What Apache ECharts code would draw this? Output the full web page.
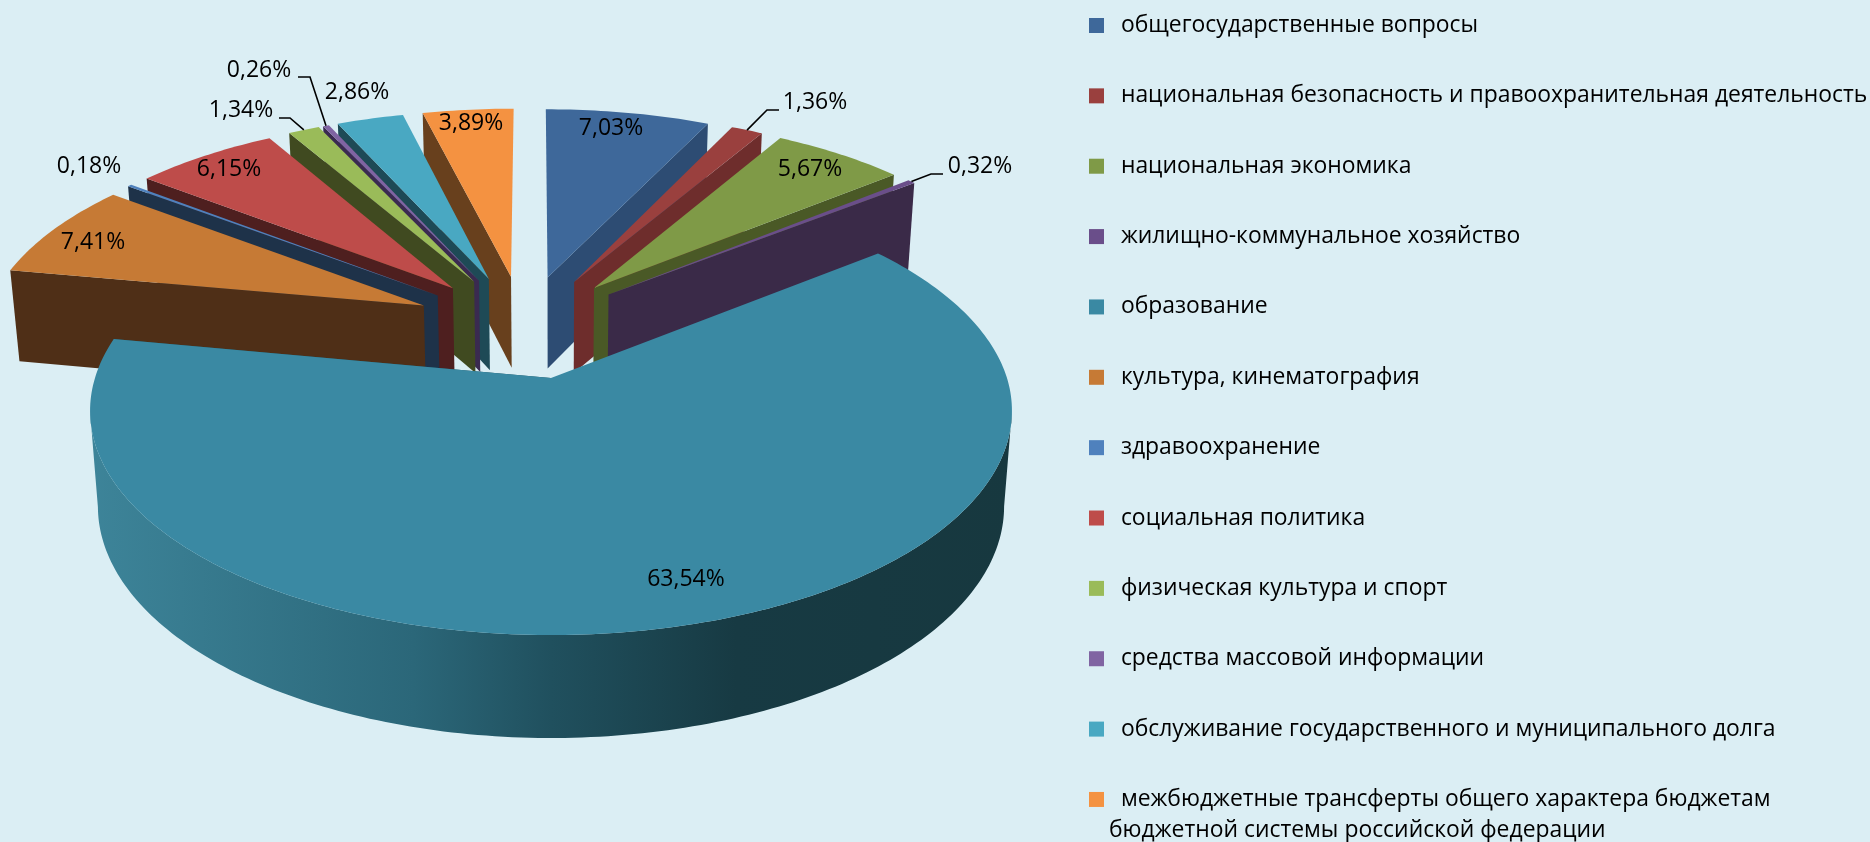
<!DOCTYPE html>
<html>
<head>
<meta charset="utf-8">
<style>html,body{margin:0;padding:0;background:#DBEEF4}#chart{width:1870px;height:842px}</style>
<script src="https://cdn.jsdelivr.net/npm/echarts@6/dist/echarts.min.js"></script>
</head>
<body>
<div id="chart"></div>
<script>
var categories = ['общегосударственные вопросы', 'национальная безопасность и правоохранительная деятельность', 'национальная экономика', 'жилищно-коммунальное хозяйство', 'образование', 'культура, кинематография', 'здравоохранение', 'социальная политика', 'физическая культура и спорт', 'средства массовой информации', 'обслуживание государственного и муниципального долга', 'межбюджетные трансферты общего характера бюджетам'];
var lastLine = 'бюджетной системы российской федерации';
var values = [7.03, 1.36, 5.67, 0.32, 63.54, 7.41, 0.18, 6.15, 1.34, 0.26, 2.86, 3.89];

var topColors = ['#3E689A', '#9A403E', '#7F9A47', '#6A4E8A', '#3A89A3', '#C67A35', '#4F81BD', '#BE4C4A', '#9ABB59', '#8064A2', '#49A8C2', '#F49241'];
var sideColors = ['#2D4C73', '#6E2D2C', '#4A5926', '#3A2A48', '#1F5362', '#4F2F17', '#1E3249', '#4E1F1F', '#404A20', '#3A2A50', '#1E4A56', '#68401D'];

// label centres, in page pixels
var labelPos = [[611, 128], [815, 102], [810, 169], [980, 166], [686, 579], [93, 242], [89, 166], [229, 169], [241, 110], [259, 70], [357, 92], [471, 123]];
// leader lines: label end, elbow; the tail goes to the slice's rim
var leaders = {1: [[779, 110], [767, 110]], 3: [[943, 174], [931, 174]], 8: [[279, 118], [290, 118]], 9: [[298, 77], [310, 77]]};

// perspective of the pie plane, fitted to the picture
var CX = 551, CY = 378, A = 456, B = 219.5, K = 0.146, EXPLODE = 0.252, SHEAR = 0.012;
var BOTTOM_X = 0.983, BOTTOM_Y = 1.0333, DEPTH = 94.4;

var total = values.reduce(function (a, b) { return a + b; }, 0);
var slices = [];
var cum = 0;
values.forEach(function (v) {
  var a0 = cum / total * Math.PI * 2;
  cum += v;
  var a1 = cum / total * Math.PI * 2;
  slices.push({a0: a0, a1: a1, mid: (a0 + a1) / 2});
});
var eduMid = slices[4].mid;

function project(u, v) {
  var w = 1 - K * v;
  var y = CY + B * v / w;
  return [CX + A * u / w - SHEAR * Math.max(0, CY - y), y];
}
function drop(p) {
  return [CX + (p[0] - CX) * BOTTOM_X, CY + DEPTH + (p[1] - CY) * BOTTOM_Y];
}
function apexOf(s) {
  return [EXPLODE * (Math.sin(s.mid) - Math.sin(eduMid)), EXPLODE * (Math.cos(eduMid) - Math.cos(s.mid))];
}
function rimPoint(s, a) {
  var c = apexOf(s);
  return project(c[0] + Math.sin(a), c[1] - Math.cos(a));
}
function arc(s) {
  var pts = [];
  var n = Math.max(4, Math.ceil((s.a1 - s.a0) * 60));
  for (var i = 0; i <= n; i++) {
    pts.push(rimPoint(s, s.a0 + (s.a1 - s.a0) * i / n));
  }
  return pts;
}
// front part of the rim: the swept face between the arc's rightmost and leftmost points
function rimShape(top) {
  var right = 0, left = 0;
  top.forEach(function (p, i) {
    if (p[0] > top[right][0]) right = i;
    if (p[0] < top[left][0]) left = i;
  });
  var front = top.slice(Math.min(left, right), Math.max(left, right) + 1);
  return front.concat(front.map(drop).reverse());
}

var eduSide = new echarts.graphic.LinearGradient(91, 0, 1012, 0, [
  {offset: 0, color: '#3D8499'},
  {offset: 0.35, color: '#2B6779'},
  {offset: 0.5, color: '#20505E'},
  {offset: 0.7, color: '#173A43'},
  {offset: 1, color: '#17383F'}
], true);

function drawSlice(i) {
  var s = slices[i];
  var c = apexOf(s);
  var apex = project(c[0], c[1]);
  var top = arc(s);
  // only the cut facing the viewer is drawn
  var edge = s.mid < Math.PI ? top[top.length - 1] : top[0];
  var kids = [{type: 'polygon', shape: {points: [apex, edge, drop(edge), drop(apex)]}, style: {fill: sideColors[i]}}];
  // the rim shows only on a slice that reaches the front of the pie
  if (s.a0 < Math.PI && s.a1 > Math.PI) {
    kids.push({type: 'polygon', shape: {points: rimShape(top)}, style: {fill: eduSide}});
  }
  kids.push({type: 'polygon', shape: {points: [apex].concat(top)}, style: {fill: topColors[i]}});
  return {type: 'group', children: kids};
}

function drawLabel(params) {
  var i = params.dataIndex;
  var kids = [{
    type: 'text',
    x: labelPos[i][0],
    y: labelPos[i][1],
    style: {text: values[i].toFixed(2).replace('.', ',') + '%', fill: '#000', font: '23px "Open Sans"', align: 'center', verticalAlign: 'middle'}
  }];
  if (leaders[i]) {
    var tail = rimPoint(slices[i], slices[i].mid);
    kids.push({type: 'polyline', shape: {points: leaders[i].concat([tail])}, style: {stroke: '#000', lineWidth: 1.6, fill: null}});
  }
  return {type: 'group', children: kids};
}

// back slices first, the big one last
var order = values.map(function (v, i) { return i; }).sort(function (a, b) {
  return Math.cos(slices[b].mid) - Math.cos(slices[a].mid);
});

var series = categories.map(function (name, i) {
  return {
    type: 'custom',
    name: name,
    coordinateSystem: 'none',
    silent: true,
    animation: false,
    z: 2 + order.indexOf(i),
    itemStyle: {color: topColors[i]},
    data: [values[i]],
    renderItem: function () { return drawSlice(i); }
  };
});
series.push({
  type: 'custom',
  name: 'labels',
  coordinateSystem: 'none',
  silent: true,
  animation: false,
  z: 30,
  data: values,
  renderItem: drawLabel
});

var myChart = echarts.init(document.getElementById('chart'), null, {renderer: 'canvas'});
myChart.setOption({
  backgroundColor: '#DBEEF4',
  animation: false,
  legend: {
    data: categories,
    orient: 'vertical',
    left: 1089,
    top: 13.5,
    padding: 0,
    itemWidth: 15,
    itemHeight: 15,
    itemGap: 46.36,
    icon: 'rect',
    selectedMode: false,
    formatter: function (name) { return '\u00a0\u00a0' + name; },
    textStyle: {color: '#000', fontFamily: 'Open Sans', fontSize: 22.9, lineHeight: 24}
  },
  graphic: [{
    type: 'text',
    left: 1109,
    top: 819,
    style: {text: lastLine, fill: '#000', font: '22.9px "Open Sans"'}
  }],
  series: series
});
window.addEventListener('resize', function () { myChart.resize(); });
</script>
</body>
</html>
